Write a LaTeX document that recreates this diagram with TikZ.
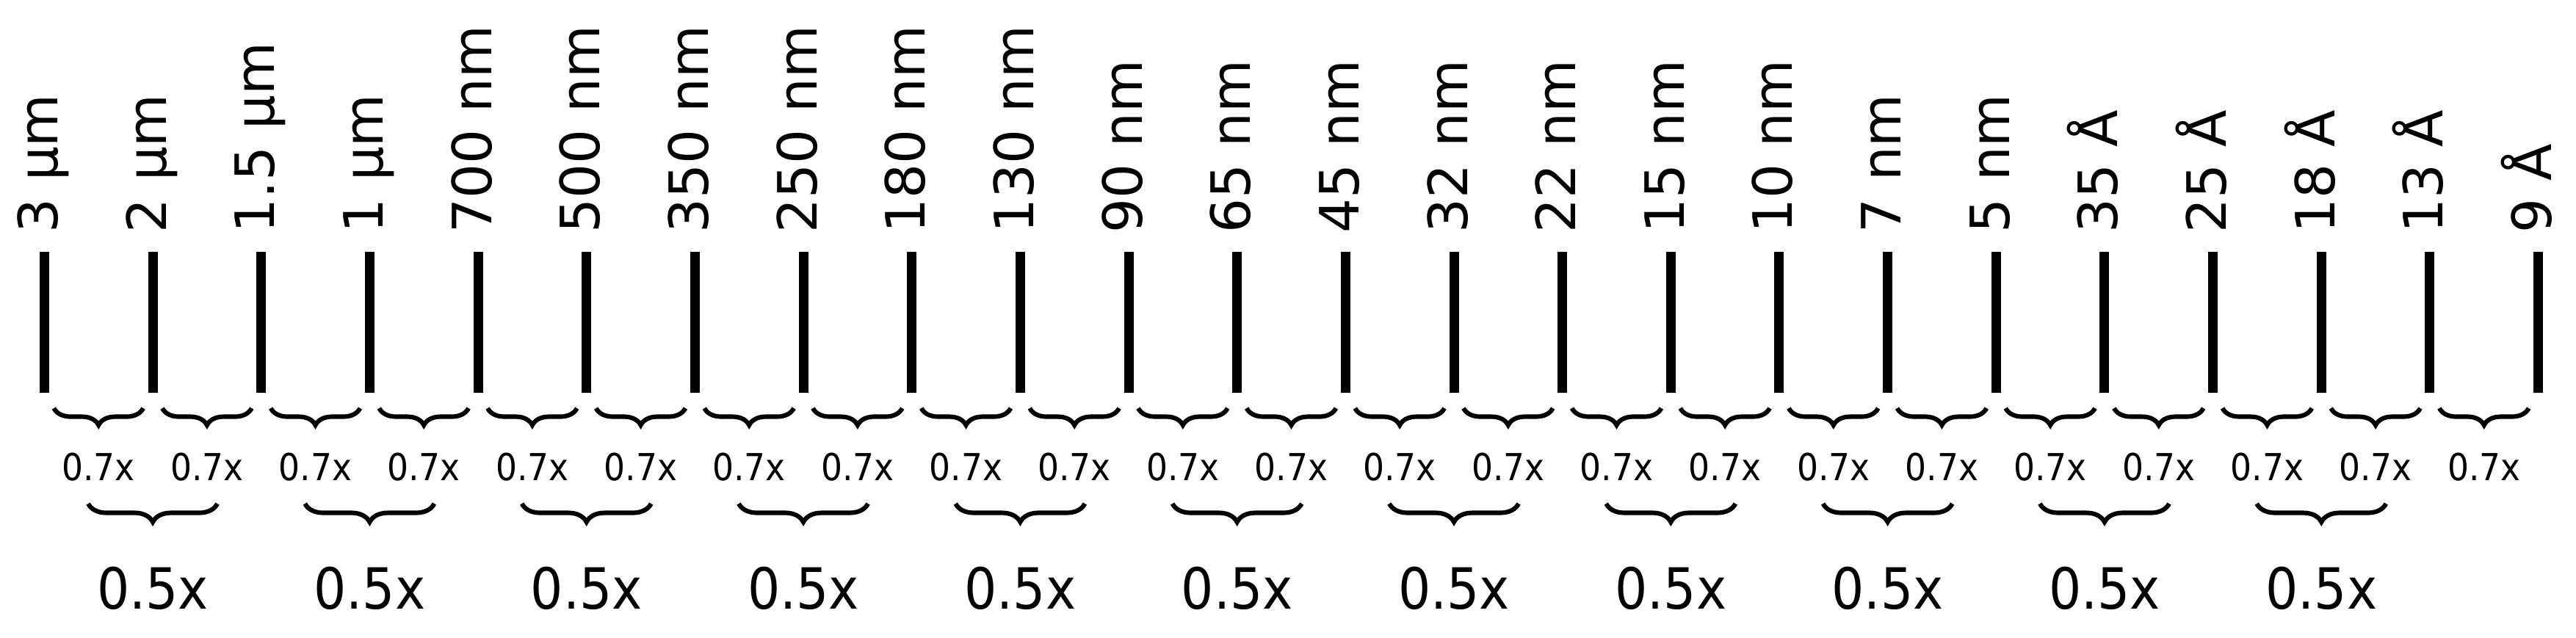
\documentclass[tikz,border=0pt]{standalone}
\usepackage{fontspec}
\setmainfont{DejaVu Sans}
\newfontfamily\narrowfont[FakeStretch=0.9]{DejaVu Sans}
\usepackage{tikz}
\usetikzlibrary{decorations.pathreplacing, calc}
\definecolor{ScaleInk}{HTML}{000000}
\tikzset{
  nodebar/.style={draw=ScaleInk, line width=3.7pt},
  sizelabel/.style={rotate=90, anchor=base west, inner sep=0pt,
                    font=\fontsize{21}{25}\selectfont},
  stepbrace/.style={draw=ScaleInk, line width=1.75pt, decorate,
                    decoration={brace, mirror, amplitude=0.23cm}},
  halfbrace/.style={draw=ScaleInk, line width=1.75pt, decorate,
                    decoration={brace, mirror, amplitude=0.25cm}},
  steplabel/.style={inner sep=0pt, font=\narrowfont\fontsize{14.4}{17}\selectfont},
  halflabel/.style={inner sep=0pt, font=\narrowfont\fontsize{22}{26}\selectfont}
}

\begin{document}
\begin{tikzpicture}
  \useasboundingbox (0,0) rectangle (35.08,-8.68);

  % feature sizes
  \foreach \lbl [count=\i from 0] in {3 µm, 2 µm, 1.5 µm, 1 µm, 700 nm, 500 nm,
      350 nm, 250 nm, 180 nm, 130 nm, 90 nm, 65 nm, 45 nm, 32 nm, 22 nm, 15 nm,
      10 nm, 7 nm, 5 nm, 35 Å, 25 Å, 18 Å, 13 Å, 9 Å} {
    \pgfmathsetmacro{\bx}{0.604+1.4766*\i}
    \coordinate (top\i) at (\bx,-3.43);
    \coordinate (bot\i) at (\bx,-5.35);
    \draw[nodebar] (top\i) -- (bot\i);
    \node[sizelabel] (lab\i) at ($(top\i)+(0.18,0.25)$) {\lbl};
  }

  % one step = 0.7x
  \foreach \i [evaluate=\i as \j using int(\i+1)] in {0,...,22} {
    \draw[stepbrace] ($(bot\i)+(0.13,-0.21)$) -- ($(bot\j)+(-0.13,-0.21)$);
    \node[steplabel] (step\i) at ($(bot\i)!0.5!(bot\j)+(0,-1.015)$) {0.7x};
  }

  % two steps = 0.5x
  \foreach \i in {1,3,...,21} {
    \draw[halfbrace] ($(bot\i)+(-0.88,-1.51)$) -- ($(bot\i)+(0.88,-1.51)$);
    \node[halflabel] (half\i) at ($(bot\i)+(0,-2.665)$) {0.5x};
  }
\end{tikzpicture}
\end{document}
